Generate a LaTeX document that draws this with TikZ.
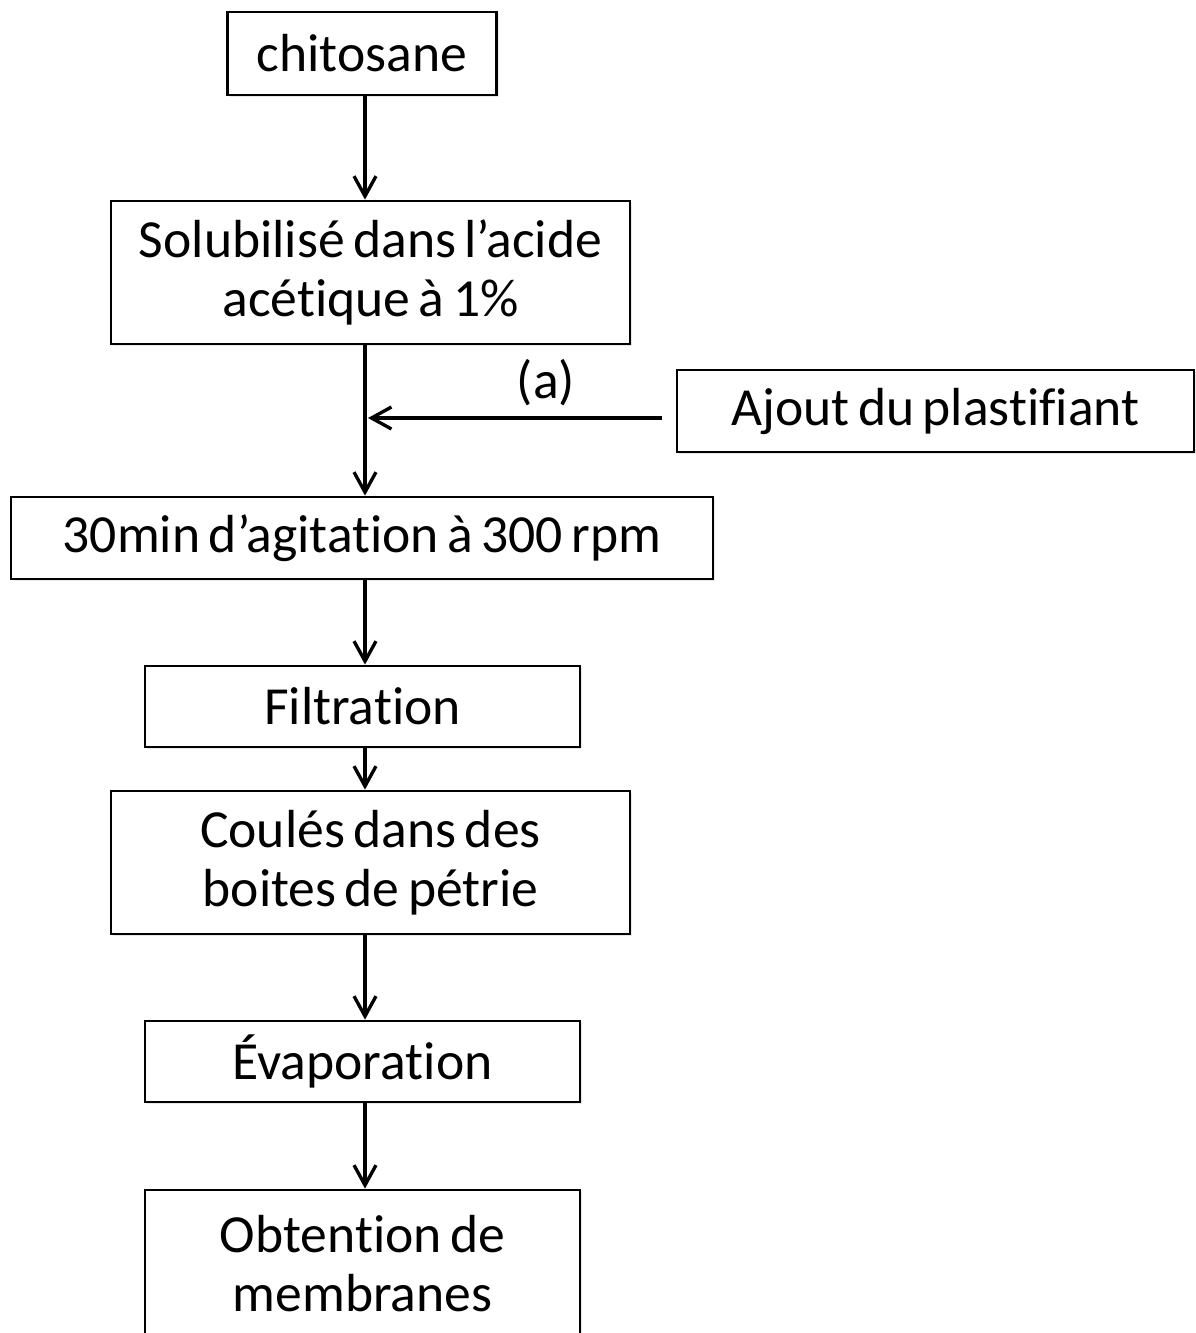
\documentclass[tikz,border=0pt]{standalone}
\usepackage{fontspec}
\setmainfont{Carlito}[Ligatures=NoCommon,WordSpace=0.7]
\usetikzlibrary{arrows.meta,shadows}

\begin{document}
\begin{tikzpicture}
[darkArrow/.style={-{Straight Barb[length=0.4cm,width=0.44cm]},line width=1.9pt},%
  boxDecorate/.style={shape=rectangle,draw,line width=1.6pt,fill=white,align=center,%
    inner sep=0pt,font=\fontsize{30.5}{33.6}\selectfont,%
    drop shadow={shadow xshift=1.2pt,shadow yshift=-1.2pt,fill=black!18}}]
\useasboundingbox (0,0) rectangle (23.92,-26.66);
%% boxes
\foreach \nodename/\x/\y/\w/\h/\txt in {
  chitosane/7.24/-1.07/5.38/1.66/{chitosane},
  solubilise/7.41/-5.45/10.38/2.86/{Solubilisé dans l’acide\\acétique à 1\%},
  ajout/18.71/-8.22/10.34/1.64/{Ajout du plastifiant},
  agitation/7.24/-10.76/14.04/1.64/{30min d’agitation à 300 rpm},
  filtration/7.25/-14.13/8.70/1.62/{Filtration},
  coules/7.41/-17.25/10.38/2.86/{Coulés dans des\\boites de pétrie},
  evaporation/7.25/-21.23/8.70/1.62/{Évaporation},
  obtention/7.25/-25.28/8.70/2.96/{Obtention de\\membranes}}
{
  \node (\nodename) at (\x,\y) [boxDecorate,minimum width=\w cm,minimum height=\h cm] {\txt};
}
%% main line and side entry
\coordinate (axe) at (7.30,0);
\coordinate (jonction) at (7.36,-8.36);
\node (lettre) at (10.92,-7.66) [font=\fontsize{30.5}{33.6}\selectfont] {(a)};
\path
\foreach \startnode/\endnode in {chitosane/solubilise, solubilise/agitation,
  agitation/filtration, filtration/coules, coules/evaporation, evaporation/obtention}
{
  (\startnode.south -| axe) edge[darkArrow] node {} (\endnode.north -| axe)
}
  ([xshift=-0.28cm]ajout.west |- jonction) edge[darkArrow] node {} (jonction);
\end{tikzpicture}
\end{document}
